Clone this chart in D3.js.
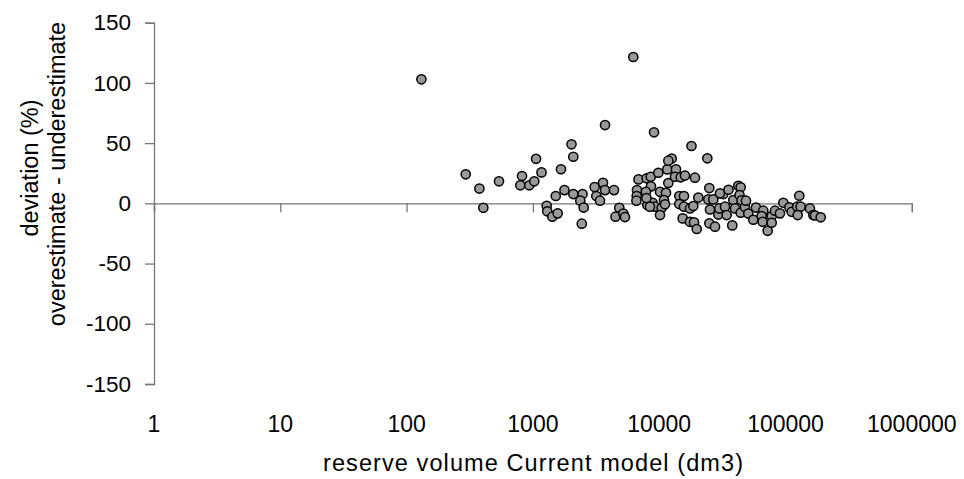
<!DOCTYPE html>
<html>
<head>
<meta charset="utf-8">
<script src="https://cdn.jsdelivr.net/npm/d3@7.9.0/dist/d3.min.js"></script>
<style>
  html, body { margin: 0; padding: 0; background: #fff; }
  svg text { font-family: "Liberation Sans", Arial, sans-serif; fill: #000; }
</style>
</head>
<body>
<svg id="chart" width="964" height="479"></svg>
<script>
// reserve volume Current model (dm3)
const volume = [
  131, 294, 377, 405, 539, 820, 795, 936, 1026, 1059,
  1170, 1286, 1300, 1425, 1571, 1517, 1668, 1778, 2021, 2089,
  2089, 2472, 2373, 2525, 2438, 3083, 3177, 3398, 3589, 3724,
  3724, 4385, 4832, 4508, 5200, 5358, 6237, 6855, 6668, 6637,
  6600, 7961, 8570, 9840, 9100, 8610, 7855, 10150, 11320, 10910,
  8050, 8870, 9260, 10470, 8450, 10150, 11120, 11810, 11590, 12560,
  11810, 13580, 13340, 14800, 16000, 19190, 18020, 24040, 14430, 15710,
  14430, 15710, 17530, 18620, 20410, 15350, 17530, 18880, 19820, 24940,
  24490, 26810, 25240, 24940, 27660, 29380, 29920, 32210, 35390, 33190,
  34210, 38620, 39830, 37890, 42300, 44180, 43250, 44860, 44180, 47760,
  48640, 50720, 55590, 58370, 66680, 64710, 65920, 72230, 77770, 77770,
  82600, 90380, 96110, 107200, 112000, 128600, 123900, 131800, 124900, 156300,
  166000, 171300, 190000, 30280, 7925
];

// deviation (%)
const deviation = [
  103, 24.1, 12.3, -3.7, 18.3, 22.7, 15.0, 15.0, 18.3, 37.0,
  25.7, -2.0, -6.6, -11.1, -8.3, 6.1, 28.3, 11.0, 49.0, 38.7,
  7.7, 7.7, 2.2, -3.5, -16.9, 13.5, 6.1, 2.2, 17.1, 11.0,
  65.0, 11.0, -3.7, -11.1, -8.5, -11.4, 121.5, 19.9, 11.0, 6.1,
  2.2, 20.8, 22.1, 25.4, 59.0, 14.1, 9.6, 9.6, 8.8, 2.7,
  -1.4, 0.5, -2.8, -3.7, -2.8, -9.7, -0.8, 16.9, 28.2, 37.2,
  35.4, 28.2, 22.1, 21.6, 23.1, 21.3, 47.6, 37.4, 6.1, 6.1,
  -0.6, -2.8, -4.2, -2.2, 4.8, -12.5, -15.3, -15.8, -21.3, 12.7,
  3.3, 3.3, -5.1, -16.6, -19.4, -9.3, -4.2, 7.7, 11.3, -2.8,
  -9.7, 2.7, -4.2, -18.3, 14.6, 13.3, 6.9, 2.5, -7.8, -3.1,
  2.2, -8.5, -13.6, -3.5, -6.1, -10.5, -15.3, -22.8, -10.5, -16.1,
  -6.1, -8.3, 0.5, -3.3, -7.0, 6.3, -2.8, -2.8, -9.7, -4.2,
  -9.7, -10.1, -11.6, 8.3, 4.4
];

const xTicks = [1, 10, 100, 1000, 10000, 100000, 1000000];
const yTicks = [-150, -100, -50, 0, 50, 100, 150];

const points = volume.map((v, i) => ({ v, d: deviation[i] }));

const svg = d3.select('#chart');
const axisColor = '#777';

const x = d3.scaleLog().domain([1, 1000000]).range([154, 911.8]);
const y = d3.scaleLinear().domain([-150, 150]).range([384, 22.7]);

// y axis
const yAxis = svg.append('g')
  .attr('transform', `translate(${x(1)},0)`)
  .call(d3.axisLeft(y).tickValues(yTicks).tickSize(9).tickPadding(14)
    .tickFormat((d) => String(d)));
yAxis.select('.domain').attr('stroke', axisColor).attr('stroke-width', 1.3);
yAxis.selectAll('.tick line').attr('stroke', axisColor).attr('stroke-width', 1.3);
yAxis.selectAll('.tick text')
  .attr('font-size', 22.5)
  .attr('font-family', '"Liberation Sans", Arial, sans-serif');

// x axis line at zero
const xAxis = svg.append('g')
  .attr('transform', `translate(0,${y(0)})`)
  .call(d3.axisBottom(x).tickValues(xTicks).tickSize(9).tickFormat(''));
xAxis.select('.domain').attr('stroke', axisColor).attr('stroke-width', 1.3);
xAxis.selectAll('.tick line').attr('stroke', axisColor).attr('stroke-width', 1.3);

// x tick labels along the bottom
svg.append('g').selectAll('text')
  .data(xTicks)
  .join('text')
  .attr('x', (d) => x(d))
  .attr('y', 432)
  .attr('text-anchor', 'middle')
  .attr('font-size', 23)
  .text((d) => String(d));

// axis titles
svg.append('text')
  .attr('x', 533)
  .attr('y', 471)
  .attr('text-anchor', 'middle')
  .attr('font-size', 23.5)
  .attr('textLength', 420)
  .attr('lengthAdjust', 'spacing')
  .text('reserve volume Current model (dm3)');

svg.append('text')
  .attr('transform', 'translate(37.5,168) rotate(-90)')
  .attr('text-anchor', 'middle')
  .attr('font-size', 23.5)
  .text('deviation (%)');
svg.append('text')
  .attr('transform', 'translate(65,174) rotate(-90)')
  .attr('text-anchor', 'middle')
  .attr('font-size', 23.5)
  .text('overestimate - underestimate');

// points
svg.append('g').selectAll('circle')
  .data(points)
  .join('circle')
  .attr('cx', (d) => x(d.v))
  .attr('cy', (d) => y(d.d))
  .attr('r', 4.6)
  .attr('fill', '#999')
  .attr('stroke', '#000')
  .attr('stroke-width', 1.5);
</script>
</body>
</html>
